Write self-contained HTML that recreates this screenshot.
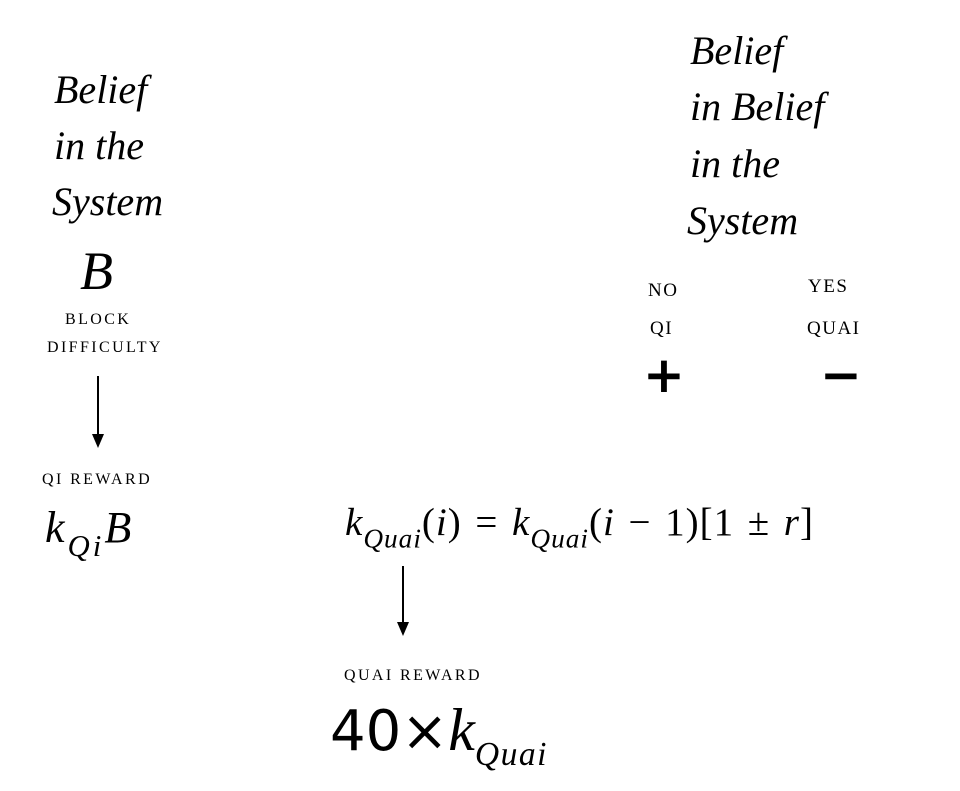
<!DOCTYPE html>
<html><head><meta charset="utf-8"><style>
html,body{margin:0;padding:0;background:#fff;}
body{width:960px;height:791px;position:relative;overflow:hidden;font-family:"Liberation Serif",serif;color:#000;}
.a{position:absolute;white-space:nowrap;line-height:1;}
.s{font-style:italic;font-size:40px;}
.sc{font-size:16px;letter-spacing:2.4px;}
.m{font-style:italic;}
sub{font-size:70%;vertical-align:-0.45em;line-height:0;}
.op{margin:0 0.35em;}
</style></head><body>
<div class="a s" style="left:54px;top:70px">Belief</div>
<div class="a s" style="left:54px;top:126px">in the</div>
<div class="a s" style="left:52px;top:182px">System</div>
<div class="a m" style="left:80px;top:244px;font-size:54px">B</div>
<div class="a sc" style="left:65px;top:312px">BLOCK</div>
<div class="a sc" style="left:47px;top:340px">DIFFICULTY</div>
<svg class="a" style="left:88px;top:376px" width="20" height="74"><line x1="10" y1="0" x2="10" y2="66" stroke="#000" stroke-width="2"/><path d="M4 58 L10 72 L16 58 Z" fill="#000"/></svg>
<div class="a sc" style="left:42px;top:472px">QI&nbsp;REWARD</div>
<div class="a" style="left:45px;top:506px;font-size:44px;letter-spacing:3px"><span class="m">k</span><sub class="m">Qi</sub><span class="m">B</span></div>

<div class="a s" style="left:690px;top:31px">Belief</div>
<div class="a s" style="left:690px;top:87px">in Belief</div>
<div class="a s" style="left:690px;top:144px">in the</div>
<div class="a s" style="left:687px;top:201px">System</div>
<div class="a sc" style="left:648px;top:281px;font-size:19px;letter-spacing:1.5px">NO</div>
<div class="a sc" style="left:650px;top:319px;font-size:19px;letter-spacing:1.5px">QI</div>
<div class="a" style="left:643px;top:350px;font-size:50px;font-family:'DejaVu Sans',sans-serif;font-weight:bold">+</div>
<div class="a sc" style="left:808px;top:277px;font-size:19px;letter-spacing:1.5px">YES</div>
<div class="a sc" style="left:807px;top:319px;font-size:19px;letter-spacing:1.5px">QUAI</div>
<div class="a" style="left:820px;top:350px;font-size:50px;font-family:'DejaVu Sans',sans-serif;font-weight:bold">−</div>

<div class="a" style="left:345px;top:503px;font-size:39px;letter-spacing:1px"><span class="m">k</span><sub class="m">Quai</sub>(<span class="m">i</span>)<span class="op">=</span><span class="m">k</span><sub class="m">Quai</sub>(<span class="m">i</span><span class="op">−</span>1)[1<span class="op">±</span><span class="m">r</span>]</div>
<svg class="a" style="left:393px;top:566px" width="20" height="74"><line x1="10" y1="0" x2="10" y2="64" stroke="#000" stroke-width="2"/><path d="M4 56 L10 70 L16 56 Z" fill="#000"/></svg>
<div class="a sc" style="left:344px;top:668px">QUAI&nbsp;REWARD</div>
<div class="a" style="left:330px;top:700px;font-size:56px"><span style="font-family:'DejaVu Sans',sans-serif">40×</span><span class="m" style="font-family:'Liberation Serif',serif;font-size:60px">k</span><sub class="m" style="font-size:60%;letter-spacing:1.5px">Quai</sub></div>
</body></html>
